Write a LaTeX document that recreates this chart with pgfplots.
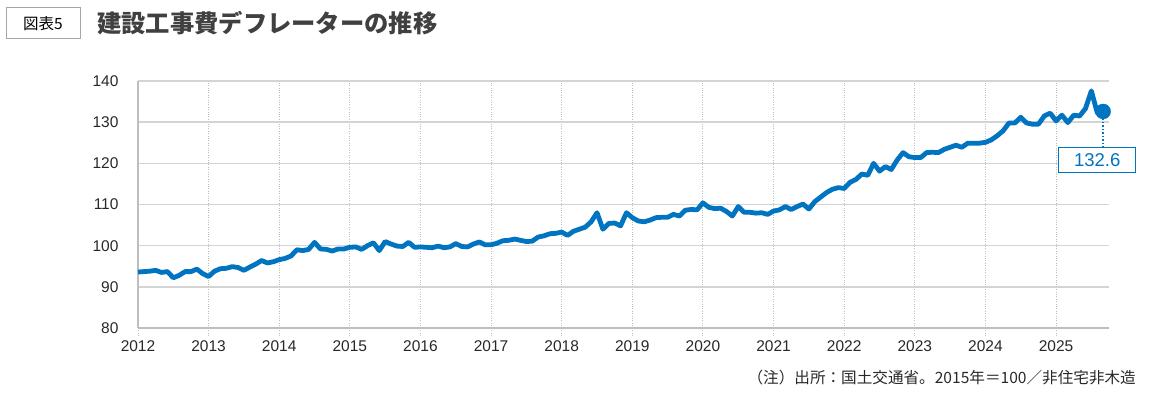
\documentclass[border=0pt]{standalone}
\usepackage{pgfplots}
\pgfplotsset{compat=1.18}
\usepackage{fontspec}
\setmainfont{Liberation Sans}
\newfontfamily\cjk{Noto Sans CJK JP}
\definecolor{lineblue}{RGB}{0,116,192}
\definecolor{gridgray}{RGB}{212,212,212}
\definecolor{axgray}{RGB}{190,190,190}
\definecolor{txt}{RGB}{40,40,40}
\definecolor{ttl}{RGB}{64,64,64}
\begin{document}
\begin{tikzpicture}[x=1pt,y=1pt]
\useasboundingbox (0,0) rectangle (1153,396);
\node[draw=gray!70, line width=1pt, minimum width=74pt, minimum height=31pt, inner sep=0pt] at (43,372.5) {\cjk\fontsize{15.5}{17}\selectfont 図表5};
\node[anchor=west, inner sep=0pt, text=ttl] at (97,373) {\cjk\bfseries\fontsize{24.3}{28}\selectfont 建設工事費デフレーターの推移};
\node[anchor=east, inner sep=0pt, text=txt] at (1136,18) {\cjk\fontsize{15.6}{18}\selectfont （注）出所：国土交通省。2015年＝100／非住宅非木造};
\begin{axis}[
  at={(138pt,68pt)}, anchor=south west, scale only axis,
  width=971pt, height=247pt,
  xmin=0, xmax=165, ymin=80, ymax=140,
  ytick={80,90,100,110,120,130,140},
  xtick={0,12,24,36,48,60,72,84,96,108,120,132,144,156},
  xticklabels={2012,2013,2014,2015,2016,2017,2018,2019,2020,2021,2022,2023,2024,2025},
  axis x line*=bottom, axis y line*=left,
  axis line style={axgray, line width=2pt, -},
  xmajorgrids, ymajorgrids,
  x grid style={axgray, dotted, line width=1pt},
  y grid style={gridgray, line width=1.5pt},
  tick align=outside, major tick length=7pt,
  xtick style={axgray, dotted, line width=1pt},
  ytick style={draw=none},
  /pgf/number format/assume math mode=true,
  yticklabel style={font=\fontsize{15.5}{18}\selectfont, text=txt, xshift=-9pt},
  xticklabel style={font=\fontsize{15.5}{18}\selectfont, text=txt, yshift=-2pt},
  clip=false,
]
\addplot[lineblue, line width=4.8pt, line join=round, mark=none] table {
x y
0 93.6
1 93.7
2 93.8
3 94.0
4 93.5
5 93.7
6 92.2
7 92.8
8 93.7
9 93.7
10 94.3
11 93.2
12 92.5
13 93.8
14 94.4
15 94.5
16 94.9
17 94.7
18 94.0
19 94.8
20 95.5
21 96.4
22 95.8
23 96.1
24 96.6
25 96.9
26 97.5
27 99.0
28 98.8
29 99.1
30 100.8
31 99.2
32 99.1
33 98.7
34 99.2
35 99.2
36 99.6
37 99.7
38 99.1
39 100.0
40 100.7
41 98.8
42 101.0
43 100.4
44 99.9
45 99.8
46 100.8
47 99.6
48 99.7
49 99.6
50 99.5
51 99.9
52 99.5
53 99.7
54 100.5
55 99.8
56 99.7
57 100.4
58 100.9
59 100.2
60 100.2
61 100.6
62 101.2
63 101.3
64 101.6
65 101.3
66 101.0
67 101.1
68 102.1
69 102.4
70 102.9
71 103.0
72 103.3
73 102.5
74 103.5
75 104.0
76 104.5
77 105.8
78 108.0
79 104.0
80 105.4
81 105.5
82 104.8
83 108.0
84 106.8
85 106.0
86 105.8
87 106.2
88 106.8
89 106.9
90 106.9
91 107.6
92 107.2
93 108.6
94 108.8
95 108.7
96 110.4
97 109.3
98 109.0
99 109.1
100 108.3
101 107.2
102 109.5
103 108.1
104 108.1
105 107.9
106 108.0
107 107.6
108 108.4
109 108.7
110 109.5
111 108.8
112 109.5
113 110.1
114 108.9
115 110.7
116 111.8
117 112.9
118 113.7
119 114.1
120 113.9
121 115.4
122 116.1
123 117.4
124 117.1
125 120.0
126 118.1
127 119.2
128 118.5
129 120.8
130 122.6
131 121.6
132 121.4
133 121.4
134 122.6
135 122.7
136 122.6
137 123.4
138 123.9
139 124.4
140 123.9
141 124.9
142 124.9
143 124.9
144 125.1
145 125.7
146 126.7
147 127.9
148 129.8
149 129.8
150 131.2
151 129.8
152 129.5
153 129.5
154 131.5
155 132.2
156 130.3
157 131.7
158 129.9
159 131.7
160 131.5
161 133.3
162 137.6
163 132.3
164 132.6
};
\addplot[only marks, mark=*, lineblue, mark size=7.5pt] coordinates {(164,132.6)};
\draw[lineblue, dotted, line width=1.5pt] (axis cs:164,131) -- (axis cs:164,124);
\node[draw=lineblue, line width=1.5pt, fill=white, text=lineblue, minimum width=77pt, minimum height=25pt, inner sep=0pt, font=\fontsize{18.5}{20}\selectfont] at (axis cs:163,120.8) {132.6};
\end{axis}
\end{tikzpicture}
\end{document}
